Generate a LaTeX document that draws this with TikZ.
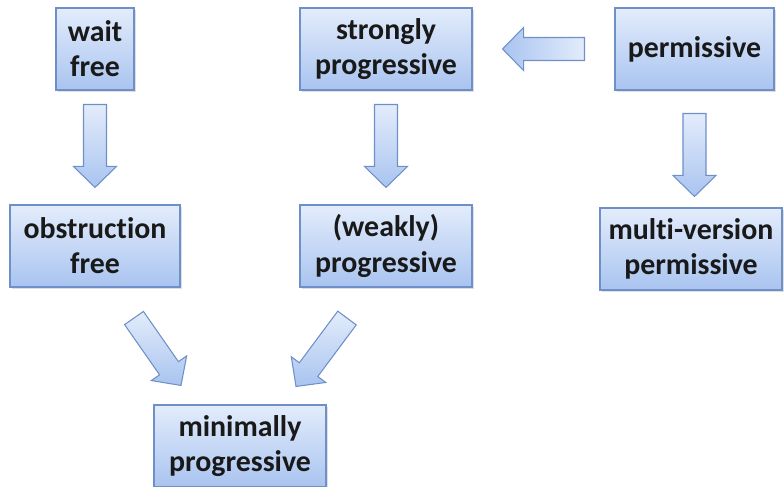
\documentclass[tikz,border=0pt]{standalone}
\usepackage{fontspec}
\setmainfont{Carlito}[Ligatures=NoCommon]
\usetikzlibrary{calc,shadows}

\definecolor{boxtop}{HTML}{E3ECFB}
\definecolor{boxbottom}{HTML}{A9C4F0}
\definecolor{boxline}{HTML}{6F8FC8}
\def\shaftw{0.23cm}
\def\headw{0.43cm}
\def\headl{0.42cm}

\tikzset{
	prop/.style={draw=boxline, line width=0.6pt, top color=boxtop, bottom color=boxbottom,
		minimum height=1.64cm, align=center, inner sep=2pt, text=black!90,
		font=\fontsize{17}{20}\selectfont\bfseries,
		drop shadow={opacity=0.25, shadow xshift=1pt, shadow yshift=-1.2pt}},
	blockarrow/.style={draw=boxline, line width=0.6pt, top color=boxtop, bottom color=boxbottom,
		to path={
			($(\tikztostart)!\shaftw!90:(\tikztotarget)$)
			-- ($($(\tikztotarget)!\headl!(\tikztostart)$)!\shaftw!90:(\tikztotarget)$)
			-- ($($(\tikztotarget)!\headl!(\tikztostart)$)!\headw!90:(\tikztotarget)$)
			-- (\tikztotarget)
			-- ($($(\tikztotarget)!\headl!(\tikztostart)$)!\headw!-90:(\tikztotarget)$)
			-- ($($(\tikztotarget)!\headl!(\tikztostart)$)!\shaftw!-90:(\tikztotarget)$)
			-- ($(\tikztostart)!\shaftw!-90:(\tikztotarget)$) -- cycle}}
}

\begin{document}
\begin{tikzpicture}
		%%%%% START %%%%%
		\useasboundingbox (0, 0) rectangle (15.68, 9.74);
		
		\node[prop, minimum width=1.56cm] (wf) at (1.90, 8.76) {wait\\free};
		\node[prop, minimum width=3.44cm] (sp) at (7.72, 8.76) {strongly\\progressive};
		\node[prop, minimum width=3.18cm] (pm) at (13.89, 8.76) {permissive};
		
		\node[prop, minimum width=3.40cm] (of) at (1.90, 4.82) {obstruction\\free};
		\node[prop, minimum width=3.44cm] (wp) at (7.72, 4.82) {(weakly)\\progressive};
		\node[prop, minimum width=3.64cm] (mv) at (13.82, 4.76) {multi-version\\permissive};
		
		\node[prop, minimum width=3.44cm] (mp) at (4.80, 0.82) {minimally\\progressive};
		
		% arrow ends
		\coordinate (wf-out) at ([yshift=-0.28cm]wf.south);
		\coordinate (of-in) at ([yshift=0.34cm]wf-out |- of.north);
		\coordinate (sp-out) at ([yshift=-0.28cm]sp.south);
		\coordinate (wp-in) at ([yshift=0.34cm]wp.north);
		\coordinate (pm-out) at ([yshift=-0.46cm]pm.south);
		\coordinate (mv-in) at ([yshift=0.22cm]pm-out |- mv.north);
		\coordinate (pm-left) at ([xshift=-0.60cm]pm.west);
		\coordinate (sp-right) at ([xshift=0.60cm]sp.east |- pm-left);
		\coordinate (of-out) at ([shift={(0.78, -0.61)}]of.south);
		\coordinate (wp-out) at ([shift={(-0.78, -0.61)}]wp.south);
		\coordinate (mp-inl) at ([shift={(-1.18, 0.38)}]mp.north);
		\coordinate (mp-inr) at ([shift={(1.12, 0.36)}]mp.north);
		
		\draw[blockarrow] (wf-out) to (of-in);
		\draw[blockarrow] (sp-out) to (wp-in);
		\draw[blockarrow] (pm-out) to (mv-in);
		\draw[blockarrow, left color=boxbottom, right color=boxtop] (pm-left) to (sp-right);
		\draw[blockarrow] (of-out) to (mp-inl);
		\draw[blockarrow] (wp-out) to (mp-inr);
		%%%%% END %%%%%
\end{tikzpicture}
\end{document}
